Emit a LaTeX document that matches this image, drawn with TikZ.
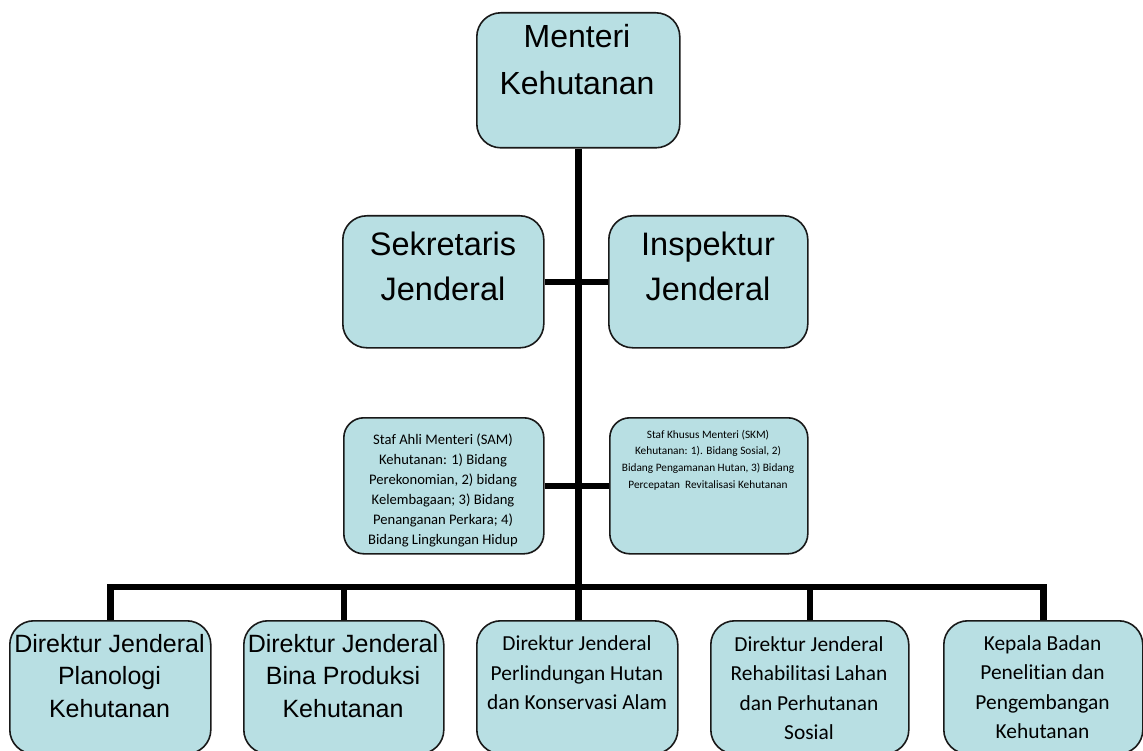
\documentclass[tikz,border=0pt]{standalone}
\usepackage{fontspec}
\setmainfont{Liberation Sans}
\newfontfamily\calibri[Ligatures=NoCommon]{Carlito}
\definecolor{boxfill}{RGB}{184,223,227}
\definecolor{boxline}{RGB}{25,25,25}
\begin{document}
\begin{tikzpicture}[x=1pt,y=-1pt,
  orgbox/.style={draw=boxline, line width=1.6pt, fill=boxfill, rounded corners=24pt, inner sep=0pt, anchor=north west},
  lbl/.style={inner sep=0pt, align=center, text=black},
  conn/.style={line width=6.5pt, black, line join=miter, line cap=butt}]
\useasboundingbox (0,0) rectangle (1143,751);
\clip (0,0) rectangle (1143,751);
\fill[white] (0,0) rectangle (1143,751);
% boxes
\node[orgbox, minimum width=203pt, minimum height=135pt] (top) at (476,12) {};
\node[orgbox, minimum width=201pt, minimum height=132pt] (sek) at (342,215) {};
\node[orgbox, minimum width=199pt, minimum height=132pt] (insp) at (608,215) {};
\node[orgbox, minimum width=200pt, minimum height=136pt, rounded corners=20pt] (sam) at (343,417) {};
\node[orgbox, minimum width=198pt, minimum height=136pt, rounded corners=20pt] (skm) at (609,417) {};
\node[orgbox, minimum width=201pt, minimum height=133pt] (b1) at (9,620) {};
\node[orgbox, minimum width=200pt, minimum height=133pt] (b2) at (243,620) {};
\node[orgbox, minimum width=201pt, minimum height=133pt] (b3) at (476,620) {};
\node[orgbox, minimum width=198pt, minimum height=133pt] (b4) at (710,620) {};
\node[orgbox, minimum width=199pt, minimum height=133pt] (b5) at (943,620) {};
% connectors
\coordinate (bus) at (0,587);
\draw[conn] (top.south) -- (top.south |- b3.north);
\draw[conn] (sek.east) -- (insp.west);
\draw[conn] (sam.east) -- (skm.west);
\draw[conn] (b1.north) -- (b1.north |- bus) -- (b5.north |- bus) -- (b5.north);
\draw[conn] (b2.north) -- (b2.north |- bus);
\draw[conn] (b4.north) -- (b4.north |- bus);
% labels
\node[lbl, font=\fontsize{32}{47}\selectfont] (ttop) at (577,60) {Menteri\\Kehutanan};
\node[lbl, font=\fontsize{32.5}{45}\selectfont] (tsek) at (443,266) {Sekretaris\\Jenderal};
\node[lbl, font=\fontsize{32.5}{45}\selectfont] (tinsp) at (708,266) {Inspektur\\Jenderal};
\node[lbl, font=\calibri\fontsize{14.6}{20}\selectfont] (tsam) at (443,490) {Staf Ahli Menteri (SAM)\\Kehutanan: 1) Bidang\\Perekonomian, 2) bidang\\Kelembagaan; 3) Bidang\\Penanganan Perkara; 4)\\Bidang Lingkungan Hidup};
\node[lbl, font=\calibri\fontsize{11.3}{16.7}\selectfont] (tskm) at (708,460) {Staf Khusus Menteri (SKM)\\Kehutanan: 1). Bidang Sosial, 2)\\Bidang Pengamanan Hutan, 3) Bidang\\Percepatan\ \ Revitalisasi Kehutanan};
\node[lbl, font=\fontsize{25}{32.5}\selectfont] (tb1) at (109.5,676) {Direktur Jenderal\\Planologi\\Kehutanan};
\node[lbl, font=\fontsize{25}{32.5}\selectfont] (tb2) at (343,676) {Direktur Jenderal\\Bina Produksi\\Kehutanan};
\node[lbl, font=\calibri\fontsize{21.4}{29.5}\selectfont] (tb3) at (577,673) {Direktur Jenderal\\Perlindungan Hutan\\dan Konservasi Alam};
\node[lbl, font=\calibri\fontsize{21.4}{29.5}\selectfont] (tb4) at (809,688) {Direktur Jenderal\\Rehabilitasi Lahan\\dan Perhutanan\\Sosial};
\node[lbl, font=\calibri\fontsize{21.4}{29.5}\selectfont] (tb5) at (1042.5,687) {Kepala Badan\\Penelitian dan\\Pengembangan\\Kehutanan};
\end{tikzpicture}
\end{document}
